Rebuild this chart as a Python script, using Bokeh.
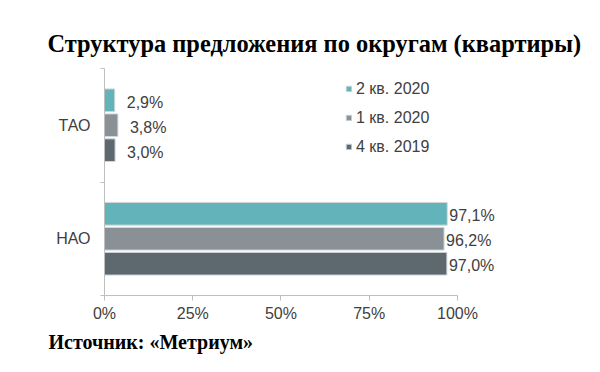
from bokeh.plotting import figure
from bokeh.models import (ColumnDataSource, FixedTicker, Title, Legend, LegendItem,
                          Range1d)
from bokeh.core.properties import value
from bokeh.embed import file_html
from bokeh.resources import INLINE

# ---- data ----
categories = ["ТАО", "НАО"]          # top to bottom
series_names = ["2 кв. 2020", "1 кв. 2020", "4 кв. 2019"]
series_colors = ["#62b4ba", "#8a9196", "#5e686f"]
values_q2_2020 = [2.9, 97.1]
values_q1_2020 = [3.8, 96.2]
values_q4_2019 = [3.0, 97.0]
x_ticks = [0, 25, 50, 75, 100]
x_tick_labels = ["0%", "25%", "50%", "75%", "100%"]
title_text = "Структура предложения по округам (квартиры)"
source_text = "Источник: «Метриум»"

series_values = [values_q2_2020, values_q1_2020, values_q4_2019]

W, H = 592, 356
p = figure(width=W, height=H, output_backend="svg", toolbar_location=None,
           x_range=Range1d(0, 117.85), y_range=Range1d(0, 2),
           min_border_left=104, min_border_right=72, min_border_top=68,
           min_border_bottom=60)
p.outline_line_color = None
p.grid.grid_line_color = None

n = len(categories)
centers = [n - 0.5 - i for i in range(n)]   # TAO at 1.5, NAO at 0.5
offsets = [0.22, 0.0, -0.22]
bar_h = 0.2

text_color = "#404040"
font = "Liberation Sans"

renderers = []
for s, (vals, col) in enumerate(zip(series_values, series_colors)):
    ys = [c + offsets[s] for c in centers]
    src = ColumnDataSource(dict(
        y=ys, right=vals,
        lbl=[("%.1f" % v).replace(".", ",") + "%" for v in vals],
        xoff=[12 if v < 50 else 2 for v in vals],
    ))
    r = p.hbar(y="y", right="right", left=0, height=bar_h, source=src,
               fill_color=col, line_color="#d3d8da", line_width=1)
    renderers.append(r)
    p.text(x="right", y="y", text="lbl", source=src, x_offset="xoff", y_offset=2,
           text_font=value(font), text_font_size="16px", text_color=text_color,
           text_baseline="middle", text_align="left")

# x axis
xa = p.xaxis[0]
xa.ticker = FixedTicker(ticks=x_ticks)
xa.major_label_overrides = {t: l for t, l in zip(x_ticks, x_tick_labels)}
xa.bounds = (0, 100)
xa.axis_line_color = "#bfbfbf"
xa.major_tick_line_color = "#bfbfbf"
xa.major_tick_out = 5
xa.major_tick_in = 0
xa.minor_tick_line_color = None
xa.major_label_text_font = font
xa.major_label_text_font_size = "16px"
xa.major_label_text_color = text_color
xa.major_label_standoff = 4

# y axis
ya = p.yaxis[0]
ya.ticker = FixedTicker(ticks=centers, minor_ticks=[0, 1, 2])
ya.major_label_overrides = {c: cat for c, cat in zip(centers, categories)}
ya.axis_line_color = "#bfbfbf"
ya.major_tick_line_color = None
ya.minor_tick_line_color = "#bfbfbf"
ya.minor_tick_out = 4
ya.minor_tick_in = 0
ya.major_label_text_font = font
ya.major_label_text_font_size = "16px"
ya.major_label_text_color = text_color
ya.major_label_standoff = 8

# legend
items = [LegendItem(label=nm, renderers=[r]) for nm, r in zip(series_names, renderers)]
leg = Legend(items=items, location=(241, 139), padding=0, margin=0,
             border_line_color=None, background_fill_alpha=0,
             glyph_width=7, glyph_height=7, label_standoff=4,
             label_height=19, spacing=10,
             label_text_font=font, label_text_font_size="16px",
             label_text_color=text_color)
p.add_layout(leg, "center")

# title and footer
p.add_layout(Title(text=title_text, align="left", offset=-57, standoff=23,
                   text_font="Liberation Serif", text_font_size="24.4px",
                   text_font_style="bold", text_color="#000000"), "above")
p.add_layout(Title(text=source_text, align="left", offset=-56, standoff=8,
                   text_font="Liberation Serif", text_font_size="20px",
                   text_font_style="bold", text_color="#000000"), "below")

open("out.html", "w").write(file_html(p, INLINE))
